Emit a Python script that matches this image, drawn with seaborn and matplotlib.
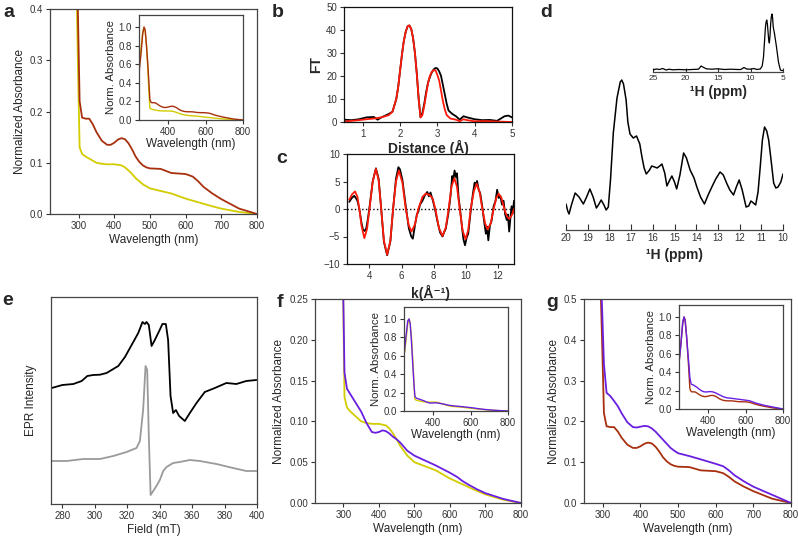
import numpy as np
import matplotlib
matplotlib.use("Agg")
import matplotlib.pyplot as plt
import seaborn as sns

# ---- UV-vis spectra (a, f, g) ----
wl = [245, 255, 265, 272, 278, 285, 292, 298, 303, 310, 320, 330, 340, 350, 365, 380,
      390, 400, 410, 420, 430, 440, 450, 460, 470, 480, 490, 500, 530, 560, 600, 620,
      635, 650, 675, 700, 750, 800]
abs_red = [0.50, 0.70, 0.93, 1.00, 0.97, 0.80, 0.60, 0.40, 0.22, 0.188, 0.186, 0.186,
           0.175, 0.160, 0.143, 0.135, 0.135, 0.139, 0.145, 0.148, 0.146, 0.138, 0.126,
           0.112, 0.102, 0.095, 0.091, 0.089, 0.088, 0.080, 0.078, 0.073, 0.064, 0.053,
           0.040, 0.029, 0.0105, 0.0]
abs_yellow = [0.60, 0.75, 0.95, 1.00, 0.95, 0.80, 0.55, 0.30, 0.13, 0.117, 0.112, 0.108,
              0.104, 0.100, 0.098, 0.097, 0.097, 0.097, 0.096, 0.095, 0.091, 0.085, 0.078,
              0.070, 0.064, 0.058, 0.054, 0.050, 0.045, 0.040, 0.030, 0.026, 0.023, 0.020,
              0.015, 0.0105, 0.004, 0.0]
abs_purple_f = [0.60, 0.80, 0.98, 1.00, 0.95, 0.75, 0.50, 0.30, 0.16, 0.140, 0.133, 0.126,
                0.119, 0.112, 0.098, 0.087, 0.086, 0.087, 0.089, 0.088, 0.085, 0.081, 0.078,
                0.074, 0.069, 0.064, 0.061, 0.058, 0.052, 0.046, 0.037, 0.032, 0.027, 0.023,
                0.017, 0.012, 0.005, 0.0]
abs_purple_g = [0.50, 0.70, 0.95, 1.00, 0.95, 0.80, 0.62, 0.48, 0.34, 0.270, 0.262, 0.250,
                0.237, 0.220, 0.198, 0.186, 0.185, 0.187, 0.189, 0.188, 0.183, 0.175, 0.165,
                0.155, 0.145, 0.135, 0.128, 0.122, 0.115, 0.107, 0.096, 0.090, 0.080, 0.068,
                0.053, 0.040, 0.020, 0.0]

# ---- EXAFS FT (b) ----
dist_fit = [0.5, 0.7, 0.9, 1.1, 1.3, 1.5, 1.7, 1.8, 1.9, 1.95, 2.0, 2.05, 2.1, 2.15, 2.2,
            2.25, 2.3, 2.35, 2.4, 2.45, 2.5, 2.55, 2.6, 2.65, 2.7, 2.75, 2.8, 2.85, 2.9,
            2.95, 3.0, 3.05, 3.1, 3.15, 3.2, 3.25, 3.35, 3.5, 3.6, 3.7, 3.8, 4.0, 4.3,
            4.6, 5.0]
ft_fit = [0.2, 0.5, 0.8, 1.2, 1.5, 2.0, 3.0, 4.5, 10, 15, 22, 29, 35, 39, 41.5,
          42, 40.5, 36.5, 30, 21, 10, 2, 3, 7, 12, 17, 20, 21.8, 22.5,
          22.5, 20.5, 18, 13.5, 9, 5.5, 3, 1.5, 1.0, 0.3, 1.2, 0.8, 0.3, 0.4,
          0.2, 0.0]
dist_exp = [0.5, 0.7, 0.9, 1.1, 1.3, 1.4, 1.5, 1.7, 1.8, 1.9, 1.95, 2.0, 2.05, 2.1, 2.15,
            2.2, 2.25, 2.3, 2.35, 2.4, 2.45, 2.5, 2.55, 2.6, 2.65, 2.7, 2.75, 2.8, 2.85,
            2.9, 2.95, 3.0, 3.05, 3.1, 3.15, 3.2, 3.25, 3.3, 3.4, 3.5, 3.6, 3.7, 3.8,
            4.0, 4.2, 4.4, 4.6, 4.8, 4.9, 5.0]
ft_exp = [1.0, 0.8, 1.2, 2.0, 2.2, 1.0, 2.0, 3.5, 4.5, 10, 15, 22, 29, 35, 39,
          41.5, 42, 40.5, 36.5, 30, 21, 10, 2, 4, 8, 13, 17, 19.5, 21.5,
          22.8, 23.5, 23.3, 22, 20, 16, 12, 8, 5, 3.5, 2.5, 1.0, 2.5, 2.0,
          1.2, 0.8, 0.9, 0.5, 2.5, 2.8, 2.0]

# ---- EXAFS k-space (c) ----
k_fit = [2.74, 2.9, 3.1, 3.25, 3.37, 3.5, 3.68, 3.85, 4.0, 4.2, 4.4, 4.57, 4.73, 4.9,
         5.1, 5.3, 5.47, 5.65, 5.83, 6.05, 6.26, 6.45, 6.62, 6.83, 7.04, 7.3, 7.5,
         7.77, 7.95, 8.1, 8.33, 8.55, 8.75, 8.93, 9.1, 9.29, 9.45, 9.62, 9.8, 9.98,
         10.15, 10.3, 10.5, 10.67, 10.85, 11.03, 11.2, 11.35, 11.55, 11.73, 11.9,
         12.04, 12.22, 12.4, 12.55, 12.7, 12.85, 13.0]
chi_fit = [1.7, 2.6, 3.2, 2.2, 0.0, -3.0, -5.3, -3.6, 0.0, 5.0, 7.3, 5.2, 0.0, -5.8,
           -8.3, -5.8, 0.0, 5.0, 7.0, 4.8, 0.0, -3.0, -4.1, -2.8, 0.0, 2.2, 2.8,
           2.5, 1.8, 0.0, -3.5, -4.9, -3.4, 0.0, 4.0, 5.6, 4.0, 0.0, -3.9, -5.5,
           -3.8, 0.0, 3.2, 4.6, 3.2, 0.0, -2.6, -3.7, -2.6, 0.0, 2.0,
           2.8, 2.0, 0.0, -1.3, -1.8, -1.2, 0.0]
k_exp = [2.74, 2.9, 3.05, 3.15, 3.25, 3.37, 3.5, 3.6, 3.7, 3.8, 3.9, 4.0, 4.2, 4.4,
         4.57, 4.73, 4.9, 5.1, 5.3, 5.47, 5.65, 5.8, 5.9, 6.05, 6.26, 6.45, 6.6, 6.7,
         6.83, 6.95, 7.04, 7.15, 7.3, 7.45, 7.6, 7.7, 7.8, 7.95, 8.1, 8.25, 8.4, 8.55,
         8.65, 8.75, 8.93, 9.05, 9.15, 9.2, 9.3, 9.38, 9.45, 9.55, 9.62, 9.75, 9.85,
         9.95, 10.05, 10.15, 10.3, 10.45, 10.55, 10.62, 10.7, 10.8, 10.9, 11.03,
         11.15, 11.25, 11.32, 11.4, 11.5, 11.6, 11.73, 11.85, 11.95, 12.05, 12.15,
         12.25, 12.35, 12.45, 12.55, 12.62, 12.7, 12.78, 12.85, 12.92, 13.0]
chi_exp = [1.3, 2.0, 2.4, 2.0, 1.5, 0.0, -2.5, -3.8, -4.0, -3.5, -1.8, 0.3, 5.0, 7.4,
           5.5, 0.0, -6.0, -8.4, -5.9, 0.0, 5.5, 7.6, 7.2, 5.3, 0.5, -3.5, -5.0, -5.4,
           -3.0, -1.0, -0.5, 0.8, 1.5, 2.5, 3.1, 2.3, 3.0, 1.5, -0.3, -2.5, -4.3, -5.0,
           -4.2, -3.6, -0.5, 2.5, 6.0, 5.0, 7.0, 5.8, 6.5, 2.0, 0.5, -3.0, -5.5,
           -6.6, -5.2, -4.5, -0.5, 3.0, 4.8, 4.2, 5.1, 3.5, 2.8, 0.3,
           -2.5, -4.5, -3.2, -5.7, -3.0, -2.2, 0.5, 1.5, 3.5, 2.0, 2.4,
           0.8, 1.5, -1.0, -2.0, -1.0, -4.1, -1.5, 0.5, -0.8, 1.5]

# ---- 1H NMR (d) ----
ppm_zoom = [20.0, 19.92, 19.86, 19.75, 19.58, 19.4, 19.2, 19.05, 18.9, 18.75, 18.6,
            18.48, 18.38, 18.25, 18.15, 18.05, 17.95, 17.82, 17.65, 17.5, 17.43, 17.35,
            17.23, 17.15, 17.05, 16.9, 16.75, 16.6, 16.5, 16.4, 16.3, 16.15, 16.05,
            15.92, 15.8, 15.68, 15.58, 15.45, 15.35, 15.22, 15.12, 15.0, 14.9, 14.75,
            14.58, 14.45, 14.28, 14.1, 13.97, 13.8, 13.62, 13.45, 13.28, 13.1, 12.9,
            12.75, 12.6, 12.45, 12.28, 12.15, 12.02, 11.88, 11.7, 11.58, 11.48, 11.36,
            11.26, 11.15, 11.05, 10.95, 10.85, 10.75, 10.66, 10.55, 10.43, 10.33, 10.23,
            10.1, 10.0]
nmr_zoom = [26, 19, 16, 25, 37, 33, 26, 33, 41, 33, 22,
            26, 30, 25, 20, 23, 50, 97, 132, 148, 150, 146,
            130, 108, 96, 92, 94, 86, 73, 62, 56, 60, 64,
            63, 62, 64, 66, 57, 44, 50, 54, 48, 41, 55,
            77, 72, 60, 52, 43, 33, 26, 35, 43, 51, 58,
            55, 47, 40, 35, 43, 50, 40, 23, 24, 29, 27,
            25, 38, 63, 90, 103, 99, 90, 70, 47, 42, 43,
            48, 56]
ppm_full = [25, 24.5, 24, 23.5, 23, 22.5, 22, 21, 20, 19, 18, 17.6, 17.2, 16.8, 16, 15,
            14, 13, 12, 11.5, 11, 10.6, 10, 9.5, 9, 8.5, 8.2, 8.0, 7.85, 7.7, 7.6, 7.5,
            7.4, 7.3, 7.2, 7.1, 7.0, 6.9, 6.8, 6.7, 6.6, 6.5, 6.3, 6.0, 5.7, 5.4, 5.2, 5.0]
nmr_full = [2, 3, 2.5, 3.5, 2, 2.8, 2.2, 2.5, 2.2, 2.5, 2.8, 6, 4.5, 3.2, 2.8, 3.2,
            2.5, 2.8, 2.5, 2.5, 4.5, 3, 2.8, 3.5, 2.5, 3.0, 6, 15, 30, 45, 50, 52,
            48, 40, 32, 29, 36, 48, 55, 58, 54, 45, 38, 25, 10, 2, 1.5, 1.5]

# ---- EPR (e) ----
field_top = [273.4, 280, 286.8, 291.9, 295.4, 299, 303.2, 307.3, 311.4, 314.5, 318.6,
             322.7, 326.8, 329.4, 330.9, 331.9, 333.3, 335, 337, 339.7, 341.7, 343.8,
             345.2, 346.7, 348.3, 350, 352, 355.5, 358.6, 362.7, 367.8, 374, 381.1,
             387.3, 393.4, 399.6]
epr_top = [116, 119, 120, 123, 128, 129, 129.3, 131, 135, 138, 147,
           159, 171, 182, 180, 182, 179, 158, 164, 173, 180, 180,
           164, 108, 91, 94, 88, 83, 91, 101, 112, 116, 121,
           120, 123, 124]
field_bot = [273.4, 282.7, 292.9, 303.2, 311.4, 319.6, 325.7, 327.8, 329.8, 331.3, 332.3,
             333.3, 334.4, 336, 338, 340.1, 342.2, 344.2, 348.3, 352.4, 358.6, 364.7,
             375, 385.2, 393.4, 399.6]
epr_bot = [43, 43, 45, 45, 48, 52, 56, 63, 94, 138, 134,
           68, 9, 13, 18, 24, 33, 37, 41, 42, 44, 43,
           40, 36, 33, 33]

RED = "#a8300e"
YELLOW = "#d2cc00"
PURPLE = "#6a1fe0"
FITRED = "#ff1a0a"
GREY = "#9a9a9a"

sns.set_theme(style="ticks")
plt.rcParams["font.family"] = ["Liberation Sans", "DejaVu Sans"]

W, H = 798, 536
fig = plt.figure(figsize=(W / 100, H / 100), dpi=100)


def px_axes(x0, y0, x1, y1):
    return fig.add_axes([x0 / W, 1 - y1 / H, (x1 - x0) / W, (y1 - y0) / H])


def style(ax, lab=7):
    ax.tick_params(labelsize=lab, length=3, width=0.8, pad=2, colors="#333333")
    for s in ax.spines.values():
        s.set_linewidth(0.9)
        s.set_color("#444444")


def uv_panel(rect, inset_rect, series, xlim, ylim, yticks, fmt):
    ax = px_axes(*rect)
    for y, c in series:
        sns.lineplot(x=wl, y=y, ax=ax, color=c, linewidth=1.3)
    ax.set_xlim(*xlim)
    ax.set_ylim(*ylim)
    ax.set_xticks([300, 400, 500, 600, 700, 800])
    ax.set_yticks(yticks)
    ax.set_yticklabels([fmt.format(v) for v in yticks])
    ax.set_xlabel("Wavelength (nm)", fontsize=8.5, labelpad=2)
    ax.set_ylabel("Normalized Absorbance", fontsize=8.5, labelpad=3)
    style(ax)
    ins = px_axes(*inset_rect)
    for y, c in series:
        sns.lineplot(x=wl, y=y, ax=ins, color=c, linewidth=1.0)
    ins.set_xlim(245, 800)
    ins.set_ylim(0, 1.13)
    ins.set_xticks([400, 600, 800])
    ins.set_yticks([0, 0.2, 0.4, 0.6, 0.8, 1.0])
    ins.set_yticklabels(["0.0", "0.2", "0.4", "0.6", "0.8", "1.0"])
    ins.set_xlabel("Wavelength (nm)", fontsize=8.5, labelpad=1)
    ins.set_ylabel("Norm. Absorbance", fontsize=8.2, labelpad=2)
    style(ins)
    return ax


# a
uv_panel((50, 9, 257, 214), (139, 15, 243, 120),
         [(abs_yellow, YELLOW), (abs_red, RED)],
         (220, 800), (0, 0.4), [0, 0.1, 0.2, 0.3, 0.4], "{:.1f}")

# f
uv_panel((315, 299, 521, 503), (404, 307, 508, 411),
         [(abs_yellow, YELLOW), (abs_purple_f, PURPLE)],
         (220, 800), (0, 0.25), [0, 0.05, 0.10, 0.15, 0.20, 0.25], "{:.2f}")

# g
uv_panel((584, 299, 791, 503), (679, 305, 783, 409),
         [(abs_red, RED), (abs_purple_g, PURPLE)],
         (250, 800), (0, 0.5), [0, 0.1, 0.2, 0.3, 0.4, 0.5], "{:.1f}")

# b
ax = px_axes(344, 7, 512, 122)
sns.lineplot(x=dist_exp, y=ft_exp, ax=ax, color="black", linewidth=1.3)
sns.lineplot(x=dist_fit, y=ft_fit, ax=ax, color=FITRED, linewidth=1.3)
ax.set_xlim(0.5, 5)
ax.set_ylim(0, 50)
ax.set_xticks([1, 2, 3, 4, 5])
ax.set_yticks([0, 10, 20, 30, 40, 50])
ax.set_xlabel("Distance (Å)", fontsize=10, fontweight="bold", labelpad=1)
ax.set_ylabel("FT", fontsize=10, fontweight="bold", labelpad=2)
style(ax)
for s in ax.spines.values():
    s.set_color("#111111")

# c
ax = px_axes(347, 154, 514, 264)
ax.axhline(0, color="black", linestyle=":", linewidth=1.0)
sns.lineplot(x=k_exp, y=chi_exp, ax=ax, color="black", linewidth=1.3)
sns.lineplot(x=k_fit, y=chi_fit, ax=ax, color=FITRED, linewidth=1.3)
ax.set_xlim(2.6, 13)
ax.set_ylim(-10, 10)
ax.set_xticks([4, 6, 8, 10, 12])
ax.set_yticks([-10, -5, 0, 5, 10])
ax.set_xlabel("k(Å⁻¹)", fontsize=10, fontweight="bold", labelpad=3)
style(ax)
for s in ax.spines.values():
    s.set_color("#111111")

# d
ax = px_axes(566, 10, 783, 230)
sns.lineplot(x=ppm_zoom, y=nmr_zoom, ax=ax, color="black", linewidth=1.1)
ax.set_xlim(20, 10)
ax.set_ylim(0, 220)
ax.set_xticks(range(20, 9, -1))
ax.set_yticks([])
for s in ("left", "right", "top"):
    ax.spines[s].set_visible(False)
style(ax)
ax.tick_params(axis="x", direction="in", length=4)
ax.set_xlabel("¹H (ppm)", fontsize=10, fontweight="bold", labelpad=4)

ins = px_axes(653, 10, 783, 72)
sns.lineplot(x=ppm_full, y=nmr_full, ax=ins, color="black", linewidth=0.9)
ins.set_xlim(25, 5)
ins.set_ylim(0, 62)
ins.set_xticks([25, 20, 15, 10, 5])
ins.set_yticks([])
for s in ("left", "right", "top"):
    ins.spines[s].set_visible(False)
ins.patch.set_alpha(0)
style(ins, lab=6)
ins.tick_params(axis="x", direction="in", length=3)
ins.set_xlabel("¹H (ppm)", fontsize=10, fontweight="bold", labelpad=2)

# e
ax = px_axes(51, 297, 257, 504)
sns.lineplot(x=field_top, y=epr_top, ax=ax, color="black", linewidth=1.3)
sns.lineplot(x=field_bot, y=epr_bot, ax=ax, color=GREY, linewidth=1.3)
ax.set_xlim(273, 400)
ax.set_ylim(0, 207)
ax.set_xticks([280, 300, 320, 340, 360, 380, 400])
ax.set_yticks([])
ax.set_xlabel("Field (mT)", fontsize=8.5, labelpad=2)
ax.set_ylabel("EPR Intensity", fontsize=8.5, labelpad=10)
style(ax)

# panel letters
for letter, x, y in [("a", 3, 4), ("b", 272, 4), ("c", 276, 150), ("d", 540, 4),
                     ("e", 2, 292), ("f", 277, 294), ("g", 546, 294)]:
    fig.text(x / W, 1 - y / H, letter, fontsize=14, fontweight="bold", va="top", ha="left")

fig.savefig("out.png", dpi=100)
